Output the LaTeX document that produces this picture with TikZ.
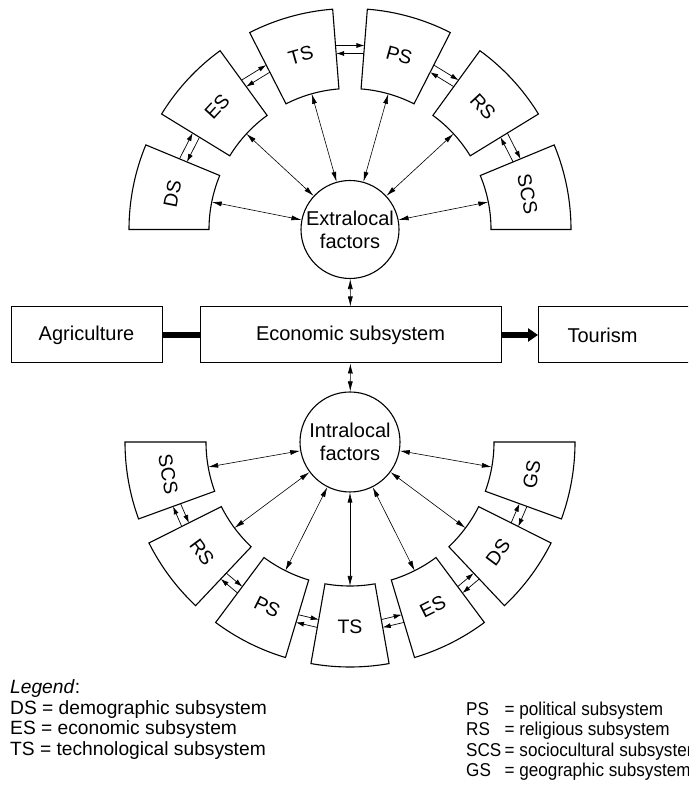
\documentclass[tikz,border=0pt]{standalone}
\usepackage{fontspec}
\setmainfont{Liberation Sans}
\newfontfamily\keyfont[FakeStretch=0.92]{Liberation Sans}
\usetikzlibrary{calc,arrows.meta}

\begin{document}
\begin{tikzpicture}[x=1pt,y=1pt,
  sector/.style={draw, line width=1.1pt, line join=miter},
  seclabel/.style={font=\fontsize{19.5}{22}\selectfont, inner sep=0pt},
  hub/.style={circle, draw, line width=1.1pt, minimum size=98pt, inner sep=0pt,
              align=center, font=\fontsize{20}{23}\selectfont},
  block/.style={draw, line width=1pt, minimum height=56pt, inner sep=0pt,
                font=\fontsize{20}{24}\selectfont},
  link/.style={line width=0.6pt, {Latex[length=10pt,width=5pt]}-{Latex[length=10pt,width=5pt]}},
  flow/.style={line width=0.7pt, -{Latex[length=8pt,width=5pt]}},
  legend/.style={anchor=west, inner sep=0pt, font=\fontsize{19.2}{22}\selectfont},
  legendr/.style={anchor=west, inner sep=0pt, font=\keyfont\fontsize{18.6}{22}\selectfont},
]
\clip (0,0) rectangle (688,791);

% ---- central row of blocks ----
\node[block, minimum width=151pt] (agri) at (86.5,456) {Agriculture};
\node[block, minimum width=301pt] (eco) at (350.5,456) {Economic subsystem};
\node[block, anchor=west, text width=180pt, align=left] (tour) at (538,456) {\hspace*{29pt}Tourism};
\draw[line width=6pt] (agri.east) -- (eco.west);
\draw[line width=6pt, -{Triangle[length=10pt,width=13pt]}] (eco.east) -- (tour.west);

% ---- the two hubs ----
\node[hub] (ext) at (350,561.5) {Extralocal\\factors};
\node[hub, minimum size=100pt] (intr) at (350,349) {Intralocal\\factors};
\draw[link] (ext) -- (eco);
\draw[link] (eco) -- (intr);

% ---- upper ring of subsystems (extralocal) ----
\foreach \lab/\a in {SCS/0, RS/31.5, PS/63, TS/94.5, ES/126, DS/157.5} {
  \pgfmathsetmacro\c{\a+11.25}
  \pgfmathsetmacro\b{\a+22.5}
  \draw[sector] ($(ext.center)+(\a:141)$) arc[start angle=\a, end angle=\b, radius=141]
     -- ($(ext.center)+(\b:221)$) arc[start angle=\b, end angle=\a, radius=221] -- cycle;
  \node[seclabel, rotate=\c-90] (up\lab) at ($(ext.center)+(\c:181)$) {\lab};
  \coordinate (up\lab-in) at ($(ext.center)+(\c:141)$);
  \draw[link] (ext) -- (up\lab-in);
}
% paired arrows between neighbouring subsystems
\foreach \g [count=\k] in {27,58.5,90,121.5,153} {
  \coordinate (uo\k a) at ($(ext.center)+({\g+4.5}:{184/cos(4.5)})$);
  \coordinate (uo\k b) at ($(ext.center)+({\g-4.5}:{184/cos(4.5)})$);
  \coordinate (ui\k a) at ($(ext.center)+({\g-4.5}:{176/cos(4.5)})$);
  \coordinate (ui\k b) at ($(ext.center)+({\g+4.5}:{176/cos(4.5)})$);
  \draw[flow] (uo\k a) -- (uo\k b);
  \draw[flow] (ui\k a) -- (ui\k b);
}

% ---- lower ring of subsystems (intralocal) ----
\foreach \lab/\a in {SCS/-180, RS/-153.333, PS/-126.667, TS/-100, ES/-73.333, DS/-46.667, GS/-20} {
  \pgfmathsetmacro\c{\a+10}
  \pgfmathsetmacro\b{\a+20}
  \draw[sector] ($(intr.center)+(\a:144)$) arc[start angle=\a, end angle=\b, radius=144]
     -- ($(intr.center)+(\b:225)$) arc[start angle=\b, end angle=\a, radius=225] -- cycle;
  \node[seclabel, rotate=\c+90] (lo\lab) at ($(intr.center)+(\c:184.5)$) {\lab};
  \coordinate (lo\lab-in) at ($(intr.center)+(\c:144)$);
  \draw[link] (intr) -- (lo\lab-in);
}
\foreach \g [count=\k] in {-156.667,-130,-103.333,-76.667,-50,-23.333} {
  \coordinate (lo\k a) at ($(intr.center)+({\g+3.333}:{188/cos(3.333)})$);
  \coordinate (lo\k b) at ($(intr.center)+({\g-3.333}:{188/cos(3.333)})$);
  \coordinate (li\k a) at ($(intr.center)+({\g-3.333}:{180/cos(3.333)})$);
  \coordinate (li\k b) at ($(intr.center)+({\g+3.333}:{180/cos(3.333)})$);
  \draw[flow] (lo\k a) -- (lo\k b);
  \draw[flow] (li\k a) -- (li\k b);
}

% ---- legend ----
\node[legend] (lg) at (10,102) {\textit{Legend}:};
\node[legend] (l1) at (10,81) {DS = demographic subsystem};
\node[legend] (l2) at (10,61) {ES = economic subsystem};
\node[legend] (l3) at (10,40) {TS = technological subsystem};
\node[legendr] (r1) at (466,80) {\makebox[38.5pt][l]{PS}= political subsystem};
\node[legendr] (r2) at (466,60) {\makebox[38.5pt][l]{RS}= religious subsystem};
\node[legendr] (r3) at (466,39) {\makebox[38.5pt][l]{SCS}= sociocultural subsystem};
\node[legendr] (r4) at (466,19) {\makebox[38.5pt][l]{GS}= geographic subsystem};
\end{tikzpicture}
\end{document}
